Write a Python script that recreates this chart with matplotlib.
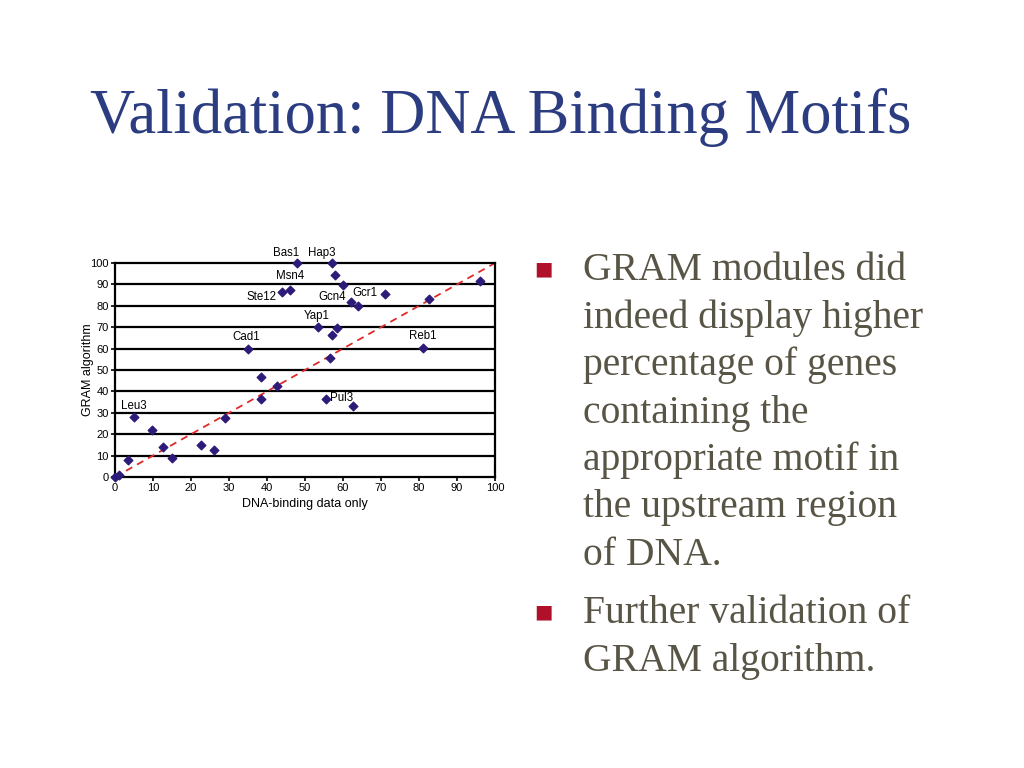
import numpy as np
import matplotlib.pyplot as plt

# DNA-binding only (x) vs GRAM algorithm (y), percent of genes with motif
dna_binding = [0, 1, 3.5, 5, 9.7, 12.5, 15, 22.5, 26, 29, 38.5, 38.5, 42.5,
               35, 44, 46, 48, 57, 58, 60, 62, 64, 71, 53.5, 57, 58.5,
               56.5, 81, 82.5, 96, 55.5, 62.5]
gram = [0, 1, 8, 28, 22, 14, 9, 15, 12.5, 27.5, 46.5, 36.5, 42.5,
        60, 86.5, 87.5, 100, 100, 94.5, 89.5, 82, 80, 85.5, 70, 66.5, 69.5,
        55.5, 60.5, 83, 91.5, 36.5, 33]

# motif names and the point they belong to
motif_names = ['Leu3', 'Cad1', 'Ste12', 'Msn4', 'Bas1', 'Hap3', 'Gcn4',
               'Gcr1', 'Yap1', 'Reb1', 'Pul3']
motif_points = [3, 13, 14, 15, 16, 17, 20, 22, 23, 27, 30]

bullets = [
    ["GRAM modules did", "indeed display higher", "percentage of genes",
     "containing the", "appropriate motif in", "the upstream region",
     "of DNA."],
    ["Further validation of", "GRAM algorithm."],
]

# label offsets in points: (dx, dy, ha)
label_offsets = {
    'Leu3': (0, 8, 'center'), 'Cad1': (-1, 8, 'center'),
    'Ste12': (-4, -4, 'right'), 'Msn4': (0, 10, 'center'),
    'Bas1': (-8, 7, 'center'), 'Hap3': (-7, 7, 'center'),
    'Gcn4': (-13, 3, 'center'), 'Gcr1': (-14, 1, 'center'),
    'Yap1': (-1, 8, 'center'), 'Reb1': (0, 8, 'center'),
    'Pul3': (3, 1, 'left'),
}

fig = plt.figure(figsize=(10.24, 7.68), dpi=100)
fig.patch.set_facecolor('white')

fig.text(90 / 1024, 1 - 133 / 768, "Validation: DNA Binding Motifs",
         family='Liberation Serif', fontsize=45, color='#2b3d80',
         ha='left', va='baseline')

ax = fig.add_axes([115 / 1024, 1 - 477 / 768, 380 / 1024, 214 / 768])
ax.set_xlim(0, 100)
ax.set_ylim(0, 100)
for yv in range(10, 100, 10):
    ax.axhline(yv, color='black', lw=1.6, zorder=1)
ax.plot([0, 100], [0, 100], ls=(0, (4, 3)), color='#e02a2a', lw=1.3, zorder=2)
ax.scatter(dna_binding, gram, marker='D', s=19, color='#2e1a78', zorder=3,
           clip_on=False)

for name, idx in zip(motif_names, motif_points):
    dx, dy, ha = label_offsets[name]
    ax.annotate(name, (dna_binding[idx], gram[idx]), xytext=(dx, dy),
                textcoords='offset points', ha=ha, va='center',
                fontsize=8.3, family='Liberation Sans', annotation_clip=False)

for sp in ax.spines.values():
    sp.set_linewidth(1.6)
ax.set_xticks(range(0, 101, 10))
ax.set_yticks(range(0, 101, 10))
ax.tick_params(direction='out', length=3, width=1.2, labelsize=8, pad=1.5)
for lab in ax.get_xticklabels() + ax.get_yticklabels():
    lab.set_family('Liberation Sans')
ax.set_xlabel("DNA-binding data only", fontsize=9, family='Liberation Sans',
              labelpad=3.5)
ax.set_ylabel("GRAM algorithm", fontsize=9, family='Liberation Sans',
              labelpad=-3)

# bullet text
y = 280
for block in bullets:
    fig.text(543 / 1024, 1 - (y - 11) / 768, u"\u25A0", fontsize=14,
             color='#b0102a', ha='center', va='center', family='DejaVu Sans')
    for line in block:
        fig.text(583 / 1024, 1 - y / 768, line, family='Liberation Serif',
                 fontsize=28.5, color='#595546', ha='left', va='baseline')
        y += 47.5
    y += 10.5

fig.savefig('out.png', dpi=100)
